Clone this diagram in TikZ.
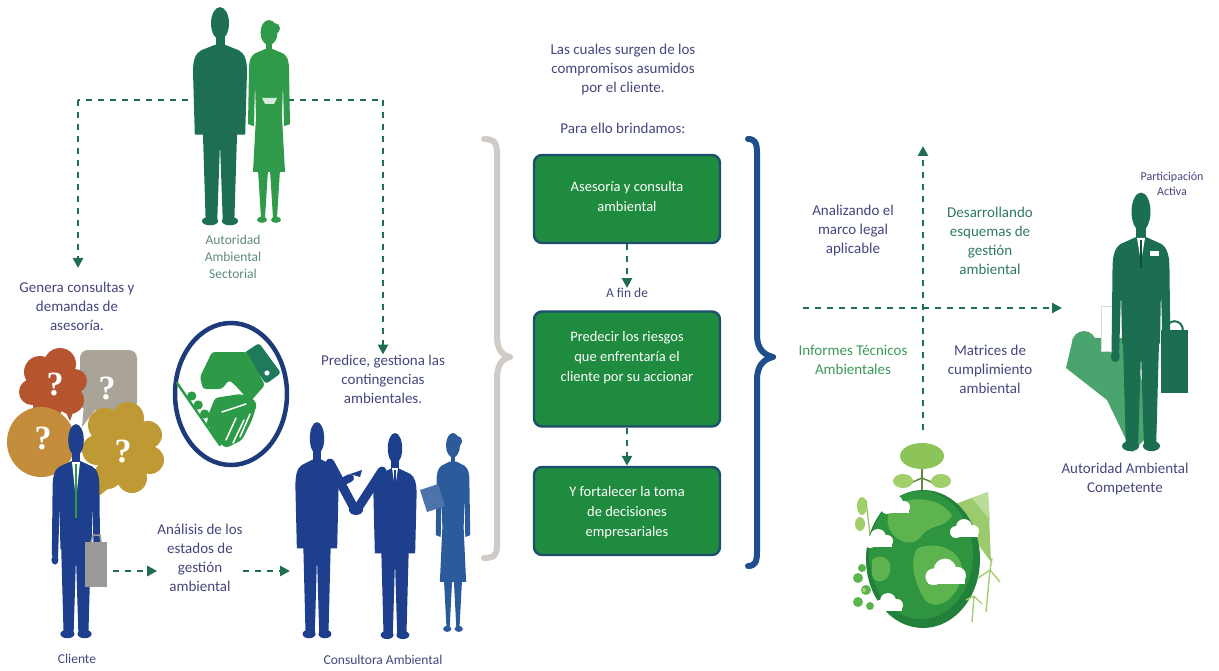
\documentclass[tikz,border=0pt]{standalone}
\usepackage{fontspec}
\setmainfont{Carlito}
\newfontfamily\qfont{Liberation Serif}
\usetikzlibrary{arrows.meta,calc}
\definecolor{txtnavy}{HTML}{43467F}
\definecolor{txtteal}{HTML}{5E8A7E}
\definecolor{txtgreen}{HTML}{2E7B5C}
\definecolor{txtlgreen}{HTML}{3A9A58}
\definecolor{dashgreen}{HTML}{1F6E4E}
\definecolor{dkteal}{HTML}{1D6E52}
\definecolor{brgreen}{HTML}{2F9A4A}
\definecolor{navyfig}{HTML}{1D3F8E}
\definecolor{bluefig}{HTML}{2C5B9B}
\definecolor{ringnavy}{HTML}{1D3A7A}
\definecolor{handgreen}{HTML}{2D9A48}
\definecolor{sleevegreen}{HTML}{1E7A5A}
\definecolor{bracegray}{HTML}{D0CBC6}
\definecolor{braceblue}{HTML}{1E4F8C}
\definecolor{boxfill}{HTML}{1F8B3E}
\definecolor{boxline}{HTML}{1D4E6E}
\definecolor{rdgreen}{HTML}{1B6E50}
\definecolor{shadowgreen}{HTML}{4AA46E}
\definecolor{qorange}{HTML}{B65430}
\definecolor{qgray}{HTML}{AAA398}
\definecolor{qtan}{HTML}{C48D3C}
\definecolor{qmustard}{HTML}{BF9A34}
\definecolor{globedk}{HTML}{23803A}
\definecolor{globemid}{HTML}{2F9440}
\definecolor{globelt}{HTML}{5DB34E}
\definecolor{treeg}{HTML}{8DC45A}
\definecolor{treeg2}{HTML}{A3CF6A}
\definecolor{mtg}{HTML}{9CCB6E}
\definecolor{briefgray}{HTML}{9A9A98}
\tikzset{
  lbl/.style={align=center, inner sep=0pt, font=\fontsize{15}{19}\selectfont},
  small/.style={align=center, inner sep=0pt, font=\fontsize{13.5}{17}\selectfont},
  boxtxt/.style={align=center, inner sep=0pt, text=white, font=\fontsize{14.5}{20}\selectfont},
  gbox/.style={draw=boxline, line width=2.4pt, fill=boxfill, rounded corners=8pt, minimum width=186pt, inner sep=0pt},
  dashln/.style={draw=dashgreen, line width=2.6pt, dash pattern=on 6pt off 6pt},
  tip/.style={-{Triangle[length=10pt,width=10pt]}},
  brace/.style={line width=6pt, line cap=round, line join=round},
  qmark/.style={text=white, font=\qfont\fontsize{34}{34}\selectfont\bfseries, inner sep=0pt},
  limb/.style={line width=9pt, line cap=round},
  man/.pic={
    \fill (0,17) ellipse (10 and 15);
    \fill (-5,28) rectangle (5,40);
    \fill (-6,37) -- (-21,42) .. controls (-28,45) and (-30,52) .. (-30,62) -- (-31,126) -- (-23,128) -- (-21,78) -- (-20,120) -- (20,120) -- (21,78) -- (23,128) -- (31,126) -- (30,62) .. controls (30,52) and (28,45) .. (21,42) -- (6,37) -- cycle;
    \fill (-19,118) -- (-16,198) -- (-3,198) -- (0,128) -- (3,198) -- (16,198) -- (19,118) -- cycle;
    \fill (-11,200) ellipse (9 and 4);
    \fill (11,200) ellipse (9 and 4);
    \fill (-27,130) circle (4.5);
    \fill (27,130) circle (4.5);
  },
  torso/.pic={
    \fill (0,17) ellipse (10 and 15);
    \fill (-5,28) rectangle (5,40);
    \fill (-6,37) -- (-21,42) .. controls (-28,45) and (-30,52) .. (-30,62) -- (-28,120) -- (28,120) -- (30,62) .. controls (30,52) and (28,45) .. (21,42) -- (6,37) -- cycle;
    \fill (-19,118) -- (-16,198) -- (-3,198) -- (0,128) -- (3,198) -- (16,198) -- (19,118) -- cycle;
    \fill (-11,200) ellipse (9 and 4);
    \fill (11,200) ellipse (9 and 4);
  },
  woman/.pic={
    \fill (0,14) ellipse (8.5 and 12);
    \fill (6,10) circle (5);
    \fill (-3,22) rectangle (3,32);
    \fill (-4,30) -- (-14,34) .. controls (-19,37) and (-20,42) .. (-20,50) -- (-21,102) -- (-15,104) -- (-14,62) -- (-13,95) -- (-16,148) -- (16,148) -- (13,95) -- (14,62) -- (15,104) -- (21,102) -- (20,50) .. controls (20,42) and (19,37) .. (14,34) -- (4,30) -- cycle;
    \fill (-11,146) -- (-8,192) -- (-4,192) -- (-1,146) -- cycle;
    \fill (1,146) -- (4,192) -- (8,192) -- (11,146) -- cycle;
    \fill (-7,194) ellipse (5 and 3);
    \fill (7,194) ellipse (5 and 3);
  },
  cloudlet/.pic={
    \fill[white] (-8,2) circle (6);
    \fill[white] (0,-3) circle (8);
    \fill[white] (9,1) circle (6);
    \fill[white] (-12,3) rectangle (14,7);
  }
}
\begin{document}
\begin{tikzpicture}[x=1pt,y=-1pt]
\useasboundingbox (0,0) rectangle (1219,671);

% ---------- Autoridad Ambiental Sectorial ----------
\coordinate (tl) at (78,100);
\coordinate (tlm) at (200,100);
\coordinate (trm) at (288,100);
\coordinate (tr) at (383,100);
\draw[dashln] (tlm) -- (tl);
\draw[dashln] (trm) -- (tr);
\pic[color=dkteal, xscale=0.9, yscale=1.08] at (220,5) {torso};
\pic[color=brgreen, xscale=1.0, yscale=1.04] at (269,18) {woman};
\fill[white!80!brgreen] (262,98) -- (277,98) -- (274,104) -- (265,104) -- cycle;
\node[small, text=txtteal] (sectorial) at (233,257) {Autoridad\\Ambiental\\Sectorial};

% ---------- Cliente ----------
\node[lbl, text=txtnavy] (genera) at (77,306) {Genera consultas y\\demandas de\\asesoría.};
\draw[dashln, tip] (tl) -- (78,268);

\fill[qgray, rounded corners=8pt] (80,350) rectangle (137,410);
\fill[qgray] (84,404) -- (98,406) -- (82,427) -- cycle;
\fill[qorange] (40,372) circle (16) (60,364) circle (16) (75,381) circle (12) (70,400) circle (14) (48,405) circle (15) (32,392) circle (13) (54,385) circle (20);
\fill[qorange] (62,405) -- (76,404) -- (70,421) -- cycle;
\fill[qtan] (41,442) ellipse (34 and 35);
\fill[qmustard] (105,425) circle (17) (128,418) circle (16) (148,435) circle (14) (150,460) circle (14) (132,478) circle (15) (108,475) circle (14) (97,450) circle (15) (125,450) circle (24);
\fill[qmustard] (98,478) -- (114,484) -- (99,496) -- cycle;
\node[qmark] (q1) at (55,384) {?};
\node[qmark] (q2) at (107,388) {?};
\node[qmark] (q3) at (43,438) {?};
\node[qmark] (q4) at (123,451) {?};

\pic[color=navyfig, xscale=0.78, yscale=1.06] at (76,422) {man};
\fill[white] (72,462) -- (80,462) -- (76,500) -- cycle;
\draw[handgreen, line width=2.6pt] (76,464) -- (76,518);
\fill[briefgray] (85,542) rectangle (107,587);
\draw[briefgray, line width=1.5pt] (91,542) -- (93,535) -- (100,535) -- (101,542);
\node[small, text=txtnavy] (cliente) at (77,659) {Cliente};

% ---------- handshake emblem ----------
\draw[ringnavy, line width=4.5pt, fill=white] (231,394) ellipse (56 and 71);
\fill[sleevegreen, rounded corners=3pt] (244,353) -- (259,343) -- (281,373) -- (266,384) -- cycle;
\fill[white] (267,373) circle (2.6);
\fill[handgreen, rounded corners=3pt] (212,352) -- (247,352) -- (265,385) -- (250,402) -- (236,386) -- (229,380) -- (222,389) -- (203,389) -- (200,377) -- cycle;
\fill[handgreen, rounded corners=3pt] (215,398) -- (240,394) -- (252,398) -- (257,404) -- (252,420) -- (242,440) -- (226,448) -- (213,438) -- (207,418) -- cycle;
\draw[white, line width=1.5pt, line cap=round] (226,440) -- (236,418) (233,443) -- (244,420) (240,437) -- (250,414) (222,412) -- (246,404);
\draw[handgreen, line width=2.4pt, line cap=round] (177,383) -- (220,445);
\foreach \t in {0.25,0.4,0.55,0.7,0.85}
  \fill[handgreen] ($(181,381)!\t!(224,441)$) circle (4.6);

% ---------- Analisis arrows ----------
\node[lbl, text=txtnavy] (analisis) at (200,558) {Análisis de los\\estados de\\gestión\\ambiental};
\coordinate (cl) at (113,571);
\coordinate (cr) at (290,571);
\draw[dashln, tip] (cl) -- (analisis.west |- cl);
\draw[dashln, tip] (analisis.east |- cr) -- (cr);

% ---------- Consultora Ambiental ----------
\node[lbl, text=txtnavy] (predice) at (383,379) {Predice, gestiona las\\contingencias\\ambientales.};
\draw[dashln, tip] (tr) -- (predice.north);
\pic[color=navyfig, xscale=0.72, yscale=1.07] at (317,420) {torso};
\pic[color=navyfig, xscale=0.72, yscale=1.02] at (395,431) {torso};
\draw[navyfig, limb] (330,463) -- (354,508);
\draw[navyfig, limb] (382,471) -- (358,508);
\fill[navyfig] (356,510) ellipse (7 and 5);
\draw[navyfig, line width=8pt, line cap=round] (326,490) -- (350,478);
\fill[navyfig] (350,474) -- (362,470) -- (360,477) -- cycle;
\fill[white] (392,468) -- (398,468) -- (395,488) -- cycle;
\draw[navyfig, line width=1.5pt] (395,470) -- (395,490);
\pic[color=bluefig, xscale=0.82, yscale=1.02] at (453,431) {woman};
\fill[bluefig!85!white] (420,490) -- (438,484) -- (445,506) -- (427,512) -- cycle;
\node[small, text=txtnavy] (consultora) at (383,660) {Consultora Ambiental};

% ---------- central column ----------
\node[lbl, text=txtnavy] (cuales) at (623,70) {Las cuales surgen de los\\compromisos asumidos\\por el cliente.};
\node[lbl, text=txtnavy] (brindamos) at (623,128) {Para ello brindamos:};

\draw[bracegray, brace] (484,139) .. controls (494,139) and (497,143) .. (497,153) -- (497,335) .. controls (497,350) and (502,355) .. (510,357) .. controls (502,359) and (497,364) .. (497,380) -- (497,546) .. controls (497,555) and (494,558) .. (484,558);
\draw[braceblue, brace] (748,139) .. controls (755,139) and (757,143) .. (757,153) -- (757,335) .. controls (757,350) and (765,355) .. (773,357) .. controls (765,359) and (757,364) .. (757,380) -- (757,552) .. controls (757,562) and (755,566) .. (748,566);

\node[gbox, minimum height=88pt] (b1) at (627,199) {};
\node[boxtxt] (t1) at (627,197) {Asesoría y consulta\\ambiental};
\node[small, text=txtnavy] (afin) at (627,293) {A fin de};
\draw[dashln, tip] (b1.south) -- (afin.north);
\node[gbox, minimum height=115pt] (b2) at (627,369) {};
\node[boxtxt] (t2) at (627,358) {Predecir los riesgos\\que enfrentaría el\\cliente por su accionar};
\node[gbox, minimum height=88pt] (b3) at (627,511) {};
\node[boxtxt] (t3) at (627,513) {Y fortalecer la toma\\de decisiones\\empresariales};
\draw[dashln, tip] (b2.south) -- (b3.north);

% ---------- quadrant ----------
\coordinate (hl) at (803,308);
\coordinate (hr) at (1062,308);
\coordinate (vt) at (923,146);
\coordinate (vb) at (923,430);
\draw[dashln, tip] (hl) -- (hr);
\draw[dashln, tip] (vb) -- (vt);
\node[lbl, text=txtnavy] (analizando) at (853,231) {Analizando el\\marco legal\\aplicable};
\node[lbl, text=txtgreen] (desarrollando) at (990,241) {Desarrollando\\esquemas de\\gestión\\ambiental};
\node[lbl, text=txtlgreen] (informes) at (853,360) {Informes Técnicos\\Ambientales};
\node[lbl, text=txtnavy] (matrices) at (990,369) {Matrices de\\cumplimiento\\ambiental};

% ---------- Autoridad Ambiental Competente ----------
\node[align=center, inner sep=0pt, text=txtnavy, font=\fontsize{12}{15}\selectfont] (participacion) at (1172,184) {Participación\\Activa};
\fill[shadowgreen] (1073,338) -- (1128,338) -- (1157,427) -- (1132,452) -- (1107,400) -- (1066,368) -- cycle;
\fill[shadowgreen] (1084,343) circle (12);
\fill[white] (1101,306) rectangle (1118,351);
\draw[black!15, line width=0.6pt] (1101,306) rectangle (1118,351);
\pic[color=rdgreen, xscale=0.95, yscale=1.28] at (1141,190) {man};
\fill[white] (1137,238) -- (1145,238) -- (1141,262) -- cycle;
\draw[rdgreen!70!black, line width=2pt] (1141,240) -- (1141,268);
\fill[white] (1150,251) rectangle (1159,256);
\fill[rdgreen] (1161,330) rectangle (1188,393);
\draw[rdgreen, line width=2pt] (1166,331) .. controls (1166,318) and (1183,318) .. (1183,331);
\node[lbl, text=txtnavy] (competente) at (1125,479) {Autoridad Ambiental\\Competente};

% ---------- globe ----------
\fill[mtg] (950,506) -- (988,492) -- (991,562) -- cycle;
\fill[mtg!70!white] (972,498) -- (988,492) -- (990,520) -- cycle;
\draw[treeg!70!black, line width=2.5pt] (922,460) -- (922,494);
\draw[treeg!70!black, line width=1.5pt] (922,478) -- (908,484) (922,478) -- (936,484);
\fill[treeg] (922,456) ellipse (22 and 13);
\fill[treeg2] (903,481) ellipse (10 and 7);
\fill[treeg2] (941,481) ellipse (10 and 7);
\fill[treeg2] (862,506) ellipse (5 and 9);
\fill[treeg2] (860,524) ellipse (5 and 7);
\draw[treeg, line width=1.2pt] (866,500) -- (870,535);
\fill[globedk] (923,559) ellipse (57 and 69);
\fill[globemid] (921,555) ellipse (52 and 64);
\fill[globelt] (896,505) .. controls (915,495) and (940,498) .. (952,515) .. controls (945,530) and (930,522) .. (920,538) .. controls (910,548) and (895,540) .. (890,530) .. controls (885,520) and (888,510) .. (896,505) -- cycle;
\fill[globelt] (918,548) .. controls (940,540) and (965,552) .. (962,575) .. controls (958,600) and (935,612) .. (925,600) .. controls (915,585) and (908,560) .. (918,548) -- cycle;
\fill[globelt] (872,560) .. controls (880,552) and (893,558) .. (890,572) .. controls (886,585) and (874,583) .. (872,575) -- cycle;
\pic at (895,506) {cloudlet};
\pic at (878,540) {cloudlet};
\pic at (964,530) {cloudlet};
\pic[scale=1.4] at (945,574) {cloudlet};
\pic at (888,604) {cloudlet};
\draw[treeg2, line width=1.4pt] (990,570) -- (986,612) (990,570) -- (1000,582) (990,570) -- (978,578) (990,570) -- (992,558);
\draw[treeg2, line width=1.4pt] (974,596) -- (972,622) (974,596) -- (982,604) (974,596) -- (966,600);
\fill[globelt] (858,578) circle (5) (866,590) circle (5) (858,602) circle (5) (870,606) circle (4) (862,568) circle (4);
\fill[treeg2] (864,590) circle (2);
\end{tikzpicture}
\end{document}
